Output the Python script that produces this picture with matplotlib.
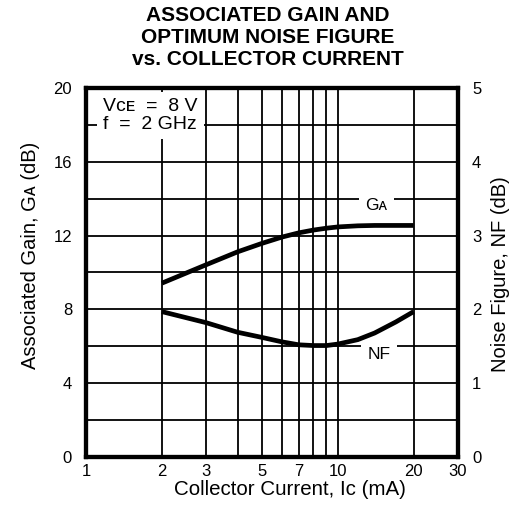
import matplotlib
matplotlib.use("Agg")
import matplotlib.pyplot as plt
from matplotlib.ticker import NullFormatter

plt.rcParams["font.family"] = ["Liberation Sans", "DejaVu Sans"]

# collector current (mA)
ic_ma = [2, 3, 4, 5, 6, 7, 8, 9, 10, 12, 14, 17, 20]
# associated gain (dB), left axis
gain_db = [9.42, 10.42, 11.12, 11.58, 11.92, 12.15, 12.3, 12.4, 12.47, 12.53, 12.55, 12.55, 12.55]
# optimum noise figure (dB), right axis
nf_db = [1.97, 1.82, 1.69, 1.62, 1.56, 1.52, 1.51, 1.51, 1.53, 1.59, 1.68, 1.83, 1.97]

x_ticks = [1, 2, 3, 5, 7, 10, 20, 30]
x_minor = [4, 6, 8, 9]
gain_ticks = [0, 4, 8, 12, 16, 20]
gain_minor = [2, 6, 10, 14, 18]
nf_ticks = [0, 1, 2, 3, 4, 5]

fig = plt.figure(figsize=(5.25, 5.09), dpi=100)
ax = fig.add_axes([0.1638, 0.1022, 0.7086, 0.7249])

ax.set_xscale("log")
ax.set_xlim(1, 30)
ax.set_ylim(0, 20)
ax.set_xticks(x_ticks)
ax.set_xticklabels([str(v) for v in x_ticks])
ax.set_xticks(x_minor, minor=True)
ax.xaxis.set_minor_formatter(NullFormatter())
ax.set_yticks(gain_ticks)
ax.set_yticks(gain_minor, minor=True)
ax.grid(True, which="both", color="black", linewidth=1.3)
ax.set_axisbelow(True)
ax.tick_params(which="both", length=0, labelsize=12)
ax.tick_params(axis="y", pad=10)
ax.tick_params(axis="x", pad=5)

for sp in ax.spines.values():
    sp.set_linewidth(3)

ax.plot(ic_ma, gain_db, color="black", linewidth=3.4, solid_capstyle="butt")

ax2 = ax.twinx()
ax2.set_ylim(0, 5)
ax2.set_yticks(nf_ticks)
ax2.tick_params(length=0, labelsize=12, pad=10)
for sp in ax2.spines.values():
    sp.set_linewidth(3)
ax2.plot(ic_ma, nf_db, color="black", linewidth=3.4, solid_capstyle="butt")

# condition note and curve labels sit on white patches that cut the grid
ax.text(1.168, 19.45, "V\u1d04\u1d07  =  8 V\nf  =  2 GHz", fontsize=14, va="top", ha="left",
        linespacing=1.05, zorder=2.4,
        bbox=dict(facecolor="white", edgecolor="none", pad=4.5))
ax.text(14.26, 13.62, "G\u1d00", fontsize=12.5, ha="center", va="center", zorder=2.4,
        bbox=dict(facecolor="white", edgecolor="none", pad=4.5))
ax.text(14.56, 5.53, "NF", fontsize=12.5, ha="center", va="center", zorder=2.4,
        bbox=dict(facecolor="white", edgecolor="none", pad=4.5))

ax.set_xlabel("Collector Current, I\u1d04 (mA)", fontsize=14.8, labelpad=1)
ax.set_ylabel("Associated Gain, G\u1d00 (dB)", fontsize=14.5, labelpad=10)
ax2.set_ylabel("Noise Figure, NF (dB)", fontsize=14.5, labelpad=7)
ax.xaxis.label.set_x(0.548)
ax.yaxis.label.set_y(0.546)
ax2.yaxis.label.set_y(0.495)

fig.suptitle("ASSOCIATED GAIN AND\nOPTIMUM NOISE FIGURE\nvs. COLLECTOR CURRENT",
             x=0.5095, y=0.988, fontsize=15, fontweight="bold", linespacing=1.2)

fig.savefig("out.png", dpi=100)
